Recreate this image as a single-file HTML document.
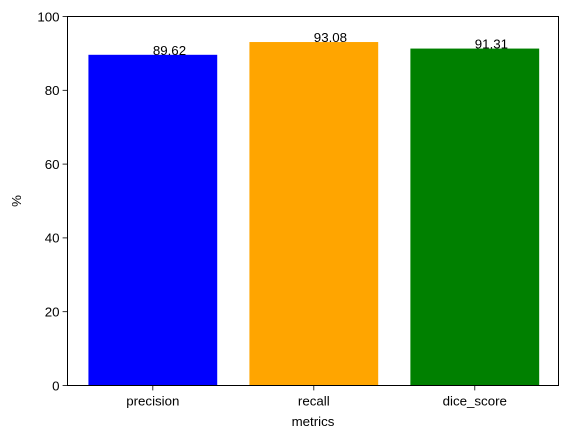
<!DOCTYPE html>
<html><head><meta charset="utf-8"><style>
body{margin:0;background:#fff;}
svg{display:block;font-family:"Liberation Sans","DejaVu Sans",sans-serif;}
</style></head><body>
<svg id="chart" width="571" height="438">
<rect width="571" height="438" fill="#fff"/>
</svg>
<script>
const categories = ["precision","recall","dice_score"];
const values = [89.62,93.08,91.31];
const colors = ["blue","orange","green"];
const yTicks = [0,20,40,60,80,100];
const labels = ["89.62","93.08","91.31"];

const L=67.5,R=558.5,T=16.5,B=385.5;
const xMin=-0.53,xMax=2.52,yMin=0,yMax=100;
const xs=v=>L+(v-xMin)/(xMax-xMin)*(R-L);
const ys=v=>B-(v-yMin)/(yMax-yMin)*(B-T);
const svg=document.getElementById('chart');
const NS='http://www.w3.org/2000/svg';
function mk(tag,attrs,parent){const e=document.createElementNS(NS,tag);for(const k in attrs)e.setAttribute(k,attrs[k]);(parent||svg).appendChild(e);return e;}

categories.forEach((c,i)=>{
  const r=mk('rect',{x:xs(i-0.4),y:ys(values[i]),width:xs(i+0.4)-xs(i-0.4),height:ys(0)-ys(values[i]),fill:colors[i]});
  
  
  const t=mk('text',{x:xs(i),y:ys(values[i]),'font-size':'13.3'});
  t.textContent=labels[i];
  
  
  mk('line',{x1:xs(i),x2:xs(i),y1:B,y2:B+4.9,stroke:'#000','stroke-width':0.8});
  const xl=mk('text',{x:xs(i),y:B+20,'font-size':'13.3','text-anchor':'middle'});
  xl.textContent=c;
  
  
});
yTicks.forEach(v=>{
  mk('line',{x1:L-4.9,x2:L,y1:ys(v),y2:ys(v),stroke:'#000','stroke-width':0.8});
  const t=mk('text',{x:L-8,y:ys(v)+4.8,'font-size':'13.3','text-anchor':'end'});
  t.textContent=v;
  
  
});
const fr=mk('rect',{x:L,y:T,width:R-L,height:B-T,fill:'none',stroke:'#000','stroke-width':1});


const xt=mk('text',{x:(L+R)/2,y:426,'font-size':'13.3','text-anchor':'middle'});
xt.textContent='metrics';


const yt=mk('text',{x:21,y:(T+B)/2,'font-size':'13.3','text-anchor':'middle',transform:'rotate(-90 21 '+((T+B)/2)+')'});
yt.textContent='%';


</script>
</body></html>
